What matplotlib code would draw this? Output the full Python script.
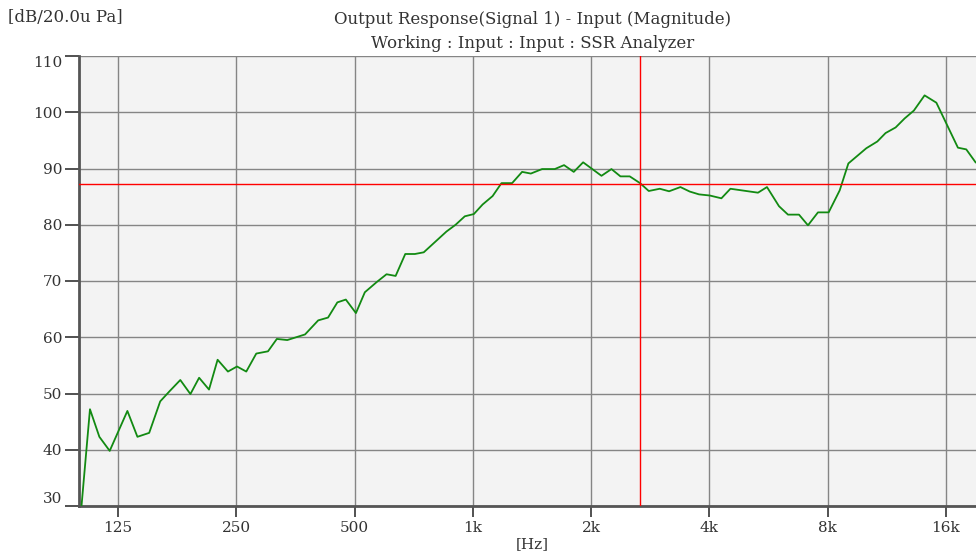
import matplotlib
matplotlib.use("Agg")
import matplotlib.pyplot as plt
from matplotlib.ticker import FixedLocator, NullLocator

# frequency (Hz) and magnitude (dB re 20 uPa)
freqs = [100, 106, 112, 119, 132, 140, 150, 160, 169, 180, 191, 201, 213, 224,
         238, 251, 265, 281, 301, 317, 337, 374, 404, 428, 452, 475, 504, 531,
         569, 603, 636, 673, 712, 750, 857, 904, 954, 1006, 1059, 1123, 1183,
         1259, 1335, 1405, 1501, 1617, 1707, 1807, 1909, 2126, 2254, 2376, 2509,
         2665, 2805, 2992, 3160, 3377, 3567, 3766, 4010, 4294, 4527, 5321, 5609,
         6018, 6344, 6767, 7133, 7563, 8052, 8589, 9039, 10040, 10710, 11240,
         11925, 12570, 13270, 14130, 15140, 17180, 18040, 19050]
mag = [27.0, 47.2, 42.3, 39.8, 46.9, 42.3, 43.0, 48.6, 50.4, 52.4, 49.9, 52.8,
       50.7, 56.0, 53.9, 54.8, 53.9, 57.1, 57.5, 59.7, 59.5, 60.5, 63.0, 63.5,
       66.2, 66.7, 64.3, 68.0, 69.8, 71.2, 70.9, 74.8, 74.8, 75.1, 78.8, 80.0,
       81.5, 81.9, 83.6, 85.1, 87.4, 87.4, 89.4, 89.1, 89.9, 89.9, 90.6, 89.4,
       91.1, 88.7, 89.9, 88.6, 88.6, 87.4, 86.0, 86.4, 85.95, 86.7, 85.9, 85.4,
       85.2, 84.7, 86.4, 85.7, 86.7, 83.3, 81.8, 81.8, 79.9, 82.2, 82.2, 86.1,
       90.9, 93.6, 94.8, 96.3, 97.3, 98.9, 100.3, 103.0, 101.7, 93.7, 93.4, 91.1]

xticks = [125, 250, 500, 1000, 2000, 4000, 8000, 16000]
xtick_labels = ["125", "250", "500", "1k", "2k", "4k", "8k", "16k"]
yticks = [30, 40, 50, 60, 70, 80, 90, 100, 110]

cursor_freq = 2665
cursor_level = 87.3

plt.rcParams['font.family'] = ['DejaVu Serif']
txt = '#333333'
fs = 11
head_fs = 12

fig = plt.figure(figsize=(9.76, 5.54), dpi=100)
ax = fig.add_axes([79 / 976, 48 / 554, 1 - 79 / 976, 450 / 554])
ax.set_facecolor('#f3f3f3')

ax.set_xscale('log')
ax.set_xlim(99.4, 19100)
ax.set_ylim(30, 110)

ax.xaxis.set_major_locator(FixedLocator(xticks))
ax.xaxis.set_minor_locator(NullLocator())
ax.set_xticklabels(xtick_labels)
ax.set_yticks(yticks)
ax.set_yticklabels([str(v) for v in yticks])

ax.grid(True, color='#858585', linewidth=1.0)
ax.set_axisbelow(True)

ax.plot(freqs, mag, color='#128a12', linewidth=1.3, zorder=3)
ax.axvline(cursor_freq, color='#ff0000', linewidth=1.0, zorder=4)
ax.axhline(cursor_level, color='#ff0000', linewidth=1.0, zorder=4)

for side in ['top', 'right']:
    ax.spines[side].set_visible(False)
for side in ['left', 'bottom']:
    ax.spines[side].set_color('#555555')
    ax.spines[side].set_linewidth(2)

ax.tick_params(axis='y', length=10, width=1.2, color='#333333', labelsize=fs,
               labelcolor=txt, pad=2)
ax.tick_params(axis='x', length=8, width=1.2, color='#333333', labelsize=fs,
               labelcolor=txt, pad=3)
ylabels = ax.get_yticklabels()
ylabels[0].set_verticalalignment('bottom')
ylabels[-1].set_verticalalignment('top')

fig.text(8 / 976, 1 - 18 / 554, "[dB/20.0u Pa]", ha='left', va='center',
         fontsize=head_fs, color=txt)
fig.text(533 / 976, 1 - 20 / 554, "Output Response(Signal 1) - Input (Magnitude)",
         ha='center', va='center', fontsize=head_fs, color=txt)
fig.text(533 / 976, 1 - 43 / 554, "Working : Input : Input : SSR Analyzer",
         ha='center', va='center', fontsize=head_fs, color=txt)
fig.text(532 / 976, 1 - 544 / 554, "[Hz]", ha='center', va='center',
         fontsize=fs, color=txt)

fig.savefig('out.png', dpi=100)
